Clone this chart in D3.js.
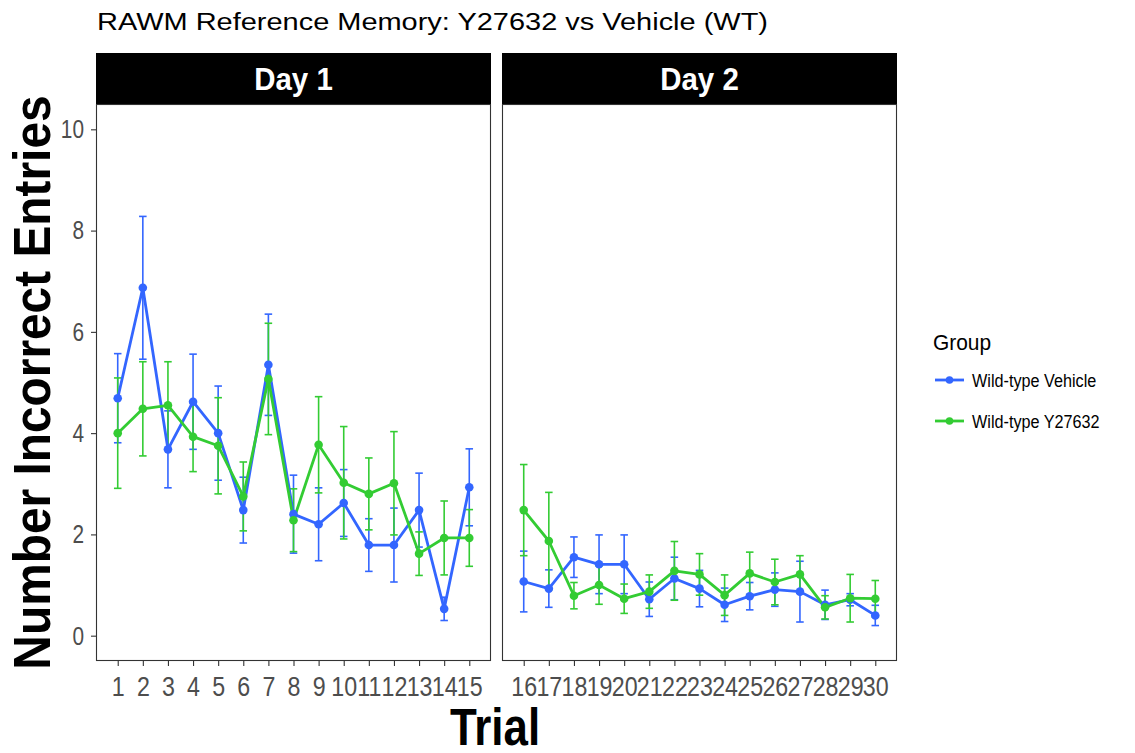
<!DOCTYPE html>
<html>
<head>
<meta charset="utf-8">
<script src="https://cdn.jsdelivr.net/npm/d3@7"></script>
<style>
  html, body { margin: 0; padding: 0; background: #fff; }
  svg { display: block; }
  text { font-family: "Liberation Sans", Arial, sans-serif; }
</style>
</head>
<body>
<svg id="chart" width="1135" height="753"></svg>
<script>
// ---------------- data ----------------
const trials = [1,2,3,4,5,6,7,8,9,10,11,12,13,14,15,16,17,18,19,20,21,22,23,24,25,26,27,28,29,30];
const days = ["Day 1","Day 1","Day 1","Day 1","Day 1","Day 1","Day 1","Day 1","Day 1","Day 1","Day 1","Day 1","Day 1","Day 1","Day 1",
              "Day 2","Day 2","Day 2","Day 2","Day 2","Day 2","Day 2","Day 2","Day 2","Day 2","Day 2","Day 2","Day 2","Day 2","Day 2"];
const dayLevels = ["Day 1", "Day 2"];
const groups = ["Wild-type Vehicle", "Wild-type Y27632"];
const vehicleMean = [4.69, 6.87, 3.68, 4.62, 4.00, 2.48, 5.35, 2.40, 2.20, 2.62, 1.79, 1.79, 2.48, 0.53, 2.93,
                     1.07, 0.93, 1.55, 1.41, 1.41, 0.72, 1.13, 0.93, 0.61, 0.78, 0.91, 0.87, 0.61, 0.71, 0.40];
const vehicleSE   = [0.88, 1.41, 0.76, 0.94, 0.93, 0.65, 1.00, 0.77, 0.72, 0.66, 0.52, 0.73, 0.73, 0.23, 0.76,
                     0.60, 0.37, 0.40, 0.58, 0.58, 0.34, 0.42, 0.36, 0.33, 0.27, 0.33, 0.60, 0.29, 0.12, 0.20];
const y27632Mean  = [4.00, 4.48, 4.55, 3.93, 3.75, 2.75, 5.07, 2.28, 3.77, 3.02, 2.80, 3.01, 1.62, 1.93, 1.93,
                     2.48, 1.87, 0.79, 1.00, 0.73, 0.87, 1.28, 1.21, 0.80, 1.23, 1.06, 1.21, 0.56, 0.74, 0.73];
const y27632SE    = [1.09, 0.93, 0.86, 0.69, 0.95, 0.68, 1.10, 0.62, 0.95, 1.11, 0.71, 1.02, 0.43, 0.73, 0.56,
                     0.90, 0.96, 0.26, 0.38, 0.29, 0.33, 0.58, 0.41, 0.40, 0.42, 0.45, 0.37, 0.23, 0.47, 0.36];
const yTicks = [0, 2, 4, 6, 8, 10];
const colors = ["#3366FF", "#33CC33"];
const titleText = "RAWM Reference Memory: Y27632 vs Vehicle (WT)";
const xTitle = "Trial";
const yTitle = "Number Incorrect Entries";
const legendTitle = "Group";

// ---------------- helpers ----------------
// narrow (condensed) rendering of text: shrink along the text direction
function condense(sel, sx) {
  sel.each(function () {
    const len = this.getComputedTextLength();
    d3.select(this).attr("textLength", len * sx).attr("lengthAdjust", "spacingAndGlyphs");
  });
}

// ---------------- layout ----------------
const svg = d3.select("#chart");
const panelTop = 104, panelBottom = 661, stripTop = 53;
const panels = [
  { day: dayLevels[0], x0: 96, x1: 491 },
  { day: dayLevels[1], x0: 502, x1: 897 }
];
const errW = 0.3;

const y = d3.scaleLinear().domain([-0.5, 10.5]).range([panelBottom, panelTop]);

const series = [
  { name: groups[0], mean: vehicleMean, se: vehicleSE, color: colors[0] },
  { name: groups[1], mean: y27632Mean, se: y27632SE, color: colors[1] }
];

// Title
svg.append("text")
  .attr("x", 97).attr("y", 30)
  .attr("font-size", 23.5)
  .attr("fill", "#000")
  .attr("textLength", 671).attr("lengthAdjust", "spacingAndGlyphs")
  .text(titleText);

panels.forEach(p => {
  const idx = trials.map((t, i) => i).filter(i => days[i] === p.day);
  const tr = idx.map(i => trials[i]);
  const lo = d3.min(tr) - errW / 2, hi = d3.max(tr) + errW / 2;
  const pad = (hi - lo) * 0.05;
  const x = d3.scaleLinear().domain([lo - pad, hi + pad]).range([p.x0, p.x1]);

  const g = svg.append("g");
  // strip
  g.append("rect").attr("x", p.x0).attr("y", stripTop)
    .attr("width", p.x1 - p.x0).attr("height", panelTop - stripTop)
    .attr("fill", "#000");
  g.append("text").attr("x", (p.x0 + p.x1) / 2).attr("y", 90)
    .attr("text-anchor", "middle").attr("font-size", 32).attr("font-weight", "bold")
    .attr("fill", "#fff").text(p.day)
    .call(condense, 0.92);

  // panel background
  g.append("rect").attr("x", p.x0).attr("y", panelTop)
    .attr("width", p.x1 - p.x0).attr("height", panelBottom - panelTop)
    .attr("fill", "#fff");

  const plot = g.append("g");

  // error bars
  series.forEach(s => {
    idx.forEach(i => {
      const t = trials[i], m = s.mean[i], e = s.se[i];
      const eg = plot.append("g").attr("stroke", s.color).attr("stroke-width", 1.6).attr("fill", "none");
      eg.append("line").attr("x1", x(t)).attr("x2", x(t)).attr("y1", y(m - e)).attr("y2", y(m + e));
      eg.append("line").attr("x1", x(t - errW / 2)).attr("x2", x(t + errW / 2)).attr("y1", y(m - e)).attr("y2", y(m - e));
      eg.append("line").attr("x1", x(t - errW / 2)).attr("x2", x(t + errW / 2)).attr("y1", y(m + e)).attr("y2", y(m + e));
    });
  });
  // lines
  series.forEach(s => {
    const line = d3.line().x(i => x(trials[i])).y(i => y(s.mean[i]));
    plot.append("path").attr("d", line(idx)).attr("fill", "none")
      .attr("stroke", s.color).attr("stroke-width", 2.8).attr("stroke-linejoin", "round");
  });
  // points
  series.forEach(s => {
    plot.selectAll(null).data(idx).enter().append("circle")
      .attr("cx", i => x(trials[i])).attr("cy", i => y(s.mean[i])).attr("r", 4.3)
      .attr("fill", s.color);
  });

  // panel border
  g.append("rect").attr("x", p.x0 + 0.5).attr("y", panelTop + 0.5)
    .attr("width", p.x1 - p.x0 - 1).attr("height", panelBottom - panelTop - 1)
    .attr("fill", "none").attr("stroke", "#333").attr("stroke-width", 1.1);

  // x axis
  const xa = g.append("g").attr("transform", `translate(0,${panelBottom})`)
    .call(d3.axisBottom(x).tickValues(tr).tickFormat(d3.format("d")).tickSize(5).tickPadding(11));
  xa.select(".domain").remove();
  xa.selectAll(".tick line").attr("stroke", "#333").attr("stroke-width", 1.1);
  xa.selectAll(".tick text").attr("font-size", 27).attr("fill", "#4D4D4D")
    .attr("font-family", "Liberation Sans, Arial, sans-serif")
    .call(condense, 0.86);

  if (p.day === dayLevels[0]) {
    const ya = g.append("g").attr("transform", `translate(${p.x0},0)`)
      .call(d3.axisLeft(y).tickValues(yTicks).tickSize(5).tickPadding(7));
    ya.select(".domain").remove();
    ya.selectAll(".tick line").attr("stroke", "#333").attr("stroke-width", 1.1);
    ya.selectAll(".tick text").attr("font-size", 26).attr("fill", "#4D4D4D")
      .attr("font-family", "Liberation Sans, Arial, sans-serif")
      .call(condense, 0.8);
  }
});

// axis titles
svg.append("text").attr("x", 495).attr("y", 745)
  .attr("text-anchor", "middle").attr("font-size", 51).attr("font-weight", "bold")
  .attr("fill", "#000").text(xTitle)
  .call(condense, 0.86);
svg.append("text")
  .attr("transform", `translate(50,${(panelTop + panelBottom) / 2}) rotate(-90)`)
  .attr("text-anchor", "middle").attr("font-size", 52).attr("font-weight", "bold")
  .attr("fill", "#000").text(yTitle)
  .call(condense, 0.92);

// legend
const lg = svg.append("g");
lg.append("text").attr("x", 933).attr("y", 350).attr("font-size", 22).attr("fill", "#000")
  .text(legendTitle).call(condense, 0.95);
series.forEach((s, k) => {
  const cy = 380 + k * 41;
  lg.append("line").attr("x1", 935).attr("x2", 964).attr("y1", cy).attr("y2", cy)
    .attr("stroke", s.color).attr("stroke-width", 2.8);
  lg.append("circle").attr("cx", 949.5).attr("cy", cy).attr("r", 3.8).attr("fill", s.color);
  lg.append("text").attr("x", 972).attr("y", cy + 7).attr("font-size", 18).attr("fill", "#000")
    .text(s.name).call(condense, 0.9);
});
</script>
</body>
</html>
